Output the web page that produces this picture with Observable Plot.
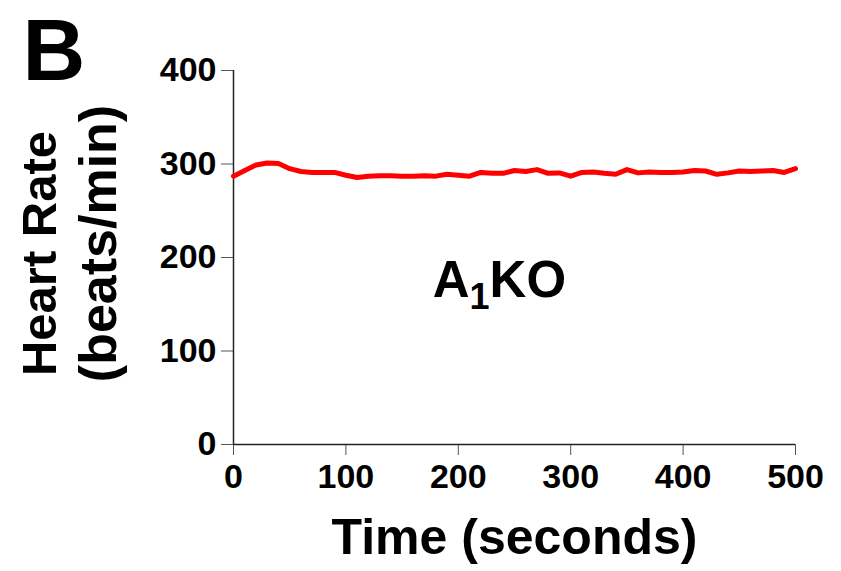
<!DOCTYPE html>
<html>
<head>
<meta charset="utf-8">
<script src="https://cdn.jsdelivr.net/npm/d3@7"></script>
<script src="https://cdn.jsdelivr.net/npm/@observablehq/plot@0.6"></script>
<style>
  html, body { margin: 0; padding: 0; background: #fff; }
  svg { font-family: "Liberation Sans", Arial, Helvetica, sans-serif; font-weight: bold; }
</style>
</head>
<body>
<div id="chart"></div>
<script>
const timeSec = [0,10,20,30,40,50,60,70,80,90,100,110,120,130,140,150,160,170,180,190,200,210,220,230,240,250,260,270,280,290,300,310,320,330,340,350,360,370,380,390,400,410,420,430,440,450,460,470,480,490,500];
const heartRate = [287,293,299,301,300.5,295,292,291,291,291,288,285.5,287,287.5,287.5,287,287,287.5,287,289,288,287,291,290,290,293,292,294,290,290.5,287,291,291.5,290,289,294,290.5,291.5,291,291,291.5,293,292.5,289,290.5,292.5,292,292.5,293,291,295];
const xTicks = [0,100,200,300,400,500];
const yTicks = [0,100,200,300,400];
const panelLetter = "B";
const xLabel = "Time (seconds)";
const yLabel1 = "Heart Rate";
const yLabel2 = "(beats/min)";
const groupLabel = {main: "A", sub: "1", rest: "KO", x: 237, y: 157};

const data = timeSec.map((t, i) => ({t, hr: heartRate[i]}));

const plot = Plot.plot({
  width: 841,
  height: 571,
  marginLeft: 233,
  marginRight: 46,
  marginTop: 70,
  marginBottom: 127,
  x: {domain: [0, 500]},
  y: {domain: [0, 400]},
  style: {fontFamily: '"Liberation Sans", Arial, sans-serif', fontWeight: "bold", background: "#fff", color: "#000"},
  marks: [
    Plot.axisX({ticks: xTicks, tickSize: 11, tickPadding: 8, fontSize: 34, fontWeight: "bold", label: null, stroke: "#555", fill: "#000", tickFormat: d => String(d)}),
    Plot.axisY({ticks: yTicks, tickSize: 12, tickPadding: 5, fontSize: 34, fontWeight: "bold", label: null, stroke: "#555", fill: "#000", tickFormat: d => String(d)}),
    Plot.ruleY([0], {stroke: "#222", strokeWidth: 1.5}),
    Plot.ruleX([0], {stroke: "#222", strokeWidth: 1.5}),
    Plot.line(data, {x: "t", y: "hr", stroke: "#ff0000", strokeWidth: 5, strokeLinejoin: "round", curve: "linear"}),
    Plot.text([xLabel], {frameAnchor: "bottom", lineAnchor: "bottom", dy: 109, fontSize: 50, fontWeight: "bold", fill: "#000"}),
    Plot.text([yLabel1], {frameAnchor: "left", textAnchor: "middle", lineAnchor: "bottom", rotate: -90, dx: -178, dy: -4, fontSize: 49, fontWeight: "bold", fill: "#000"}),
    Plot.text([yLabel2], {frameAnchor: "left", textAnchor: "middle", lineAnchor: "bottom", rotate: -90, dx: -118, dy: -14, fontSize: 52, fontWeight: "bold", fill: "#000"}),
    Plot.text([panelLetter], {frameAnchor: "top-left", textAnchor: "start", lineAnchor: "bottom", dx: -211, dy: 9, fontSize: 87, fontWeight: "bold", fill: "#000"})
  ]
});

const sx = plot.scale("x"), sy = plot.scale("y");
const svg = d3.select(plot);
const t = svg.append("text")
  .attr("x", sx.apply(groupLabel.x))
  .attr("y", sy.apply(groupLabel.y))
  .attr("text-anchor", "middle")
  .attr("font-size", 51)
  .attr("font-weight", "bold")
  .attr("fill", "#000");
t.append("tspan").text(groupLabel.main);
t.append("tspan").attr("font-size", 36).attr("dy", 12).text(groupLabel.sub);
t.append("tspan").attr("dy", -12).text(groupLabel.rest);

document.getElementById("chart").appendChild(plot);
</script>
</body>
</html>
